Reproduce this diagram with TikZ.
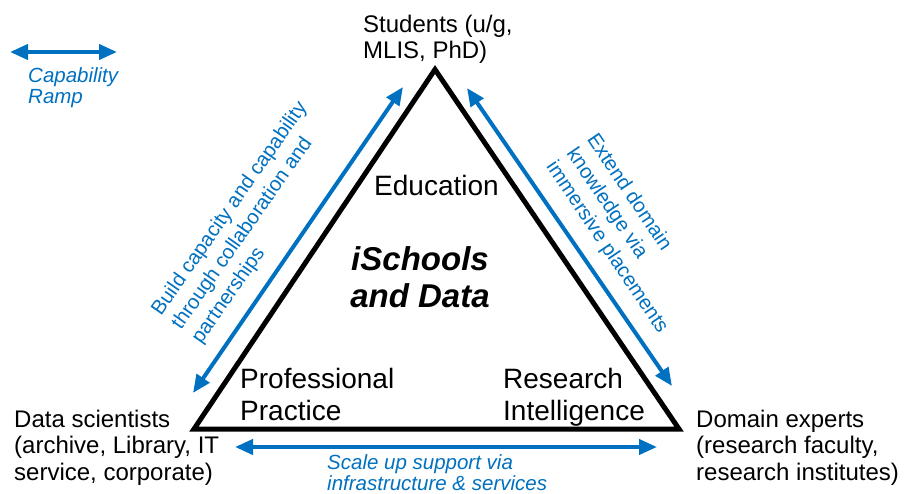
\documentclass[tikz,border=0pt]{standalone}
\usepackage{fontspec}
\setmainfont{Liberation Sans}
\usetikzlibrary{arrows.meta}
\definecolor{rampblue}{RGB}{0,112,192}
\begin{document}
\begin{tikzpicture}[x=1pt,y=-1pt,
  tri/.style={draw=black,line width=5pt,line join=miter},
  ramp/.style={draw=rampblue,line width=4pt,{Triangle[length=18pt,width=15pt]}-{Triangle[length=18pt,width=15pt]}},
  vlabel/.style={inner sep=0pt,align=left,font=\fontsize{24}{26.5}\selectfont},
  clabel/.style={inner sep=0pt,align=left,font=\fontsize{28}{32}\selectfont},
  blab/.style={inner sep=0pt,text=rampblue,font=\fontsize{20.5}{21}\selectfont\itshape,align=left},
  rlab/.style={inner sep=0pt,text=rampblue,font=\fontsize{20.3}{24.5}\selectfont,align=left}]
\useasboundingbox (0,0) rectangle (905,493);
% triangle
\coordinate (T) at (435,69.5);
\coordinate (BL) at (194,429);
\coordinate (BR) at (679,429);
\draw[tri] (T) -- (BR) -- (BL) -- cycle;
% arrow end points
\coordinate (LgA) at (10,52);
\coordinate (LgB) at (117,52);
\coordinate (LA) at (193,393);
\coordinate (LB) at (403,87);
\coordinate (RA) at (467,88);
\coordinate (RB) at (672,386);
\coordinate (BA) at (235,447);
\coordinate (BB) at (657,447);
\draw[ramp] (LgA) -- (LgB);
\draw[ramp] (LA) -- (LB);
\draw[ramp] (RA) -- (RB);
\draw[ramp] (BA) -- (BB);
% labels
\node[blab,anchor=north west] (cap) at (28,67) {Capability\\Ramp};
\node[vlabel,anchor=north west] (stu) at (363,14.5) {Students (u/g,\\MLIS, PhD)};
\node[vlabel,anchor=north west] (ds) at (14,409.5) {Data scientists\\(archive, Library, IT\\service, corporate)};
\node[vlabel,anchor=north west] (de) at (696,409.5) {Domain experts\\(research faculty,\\research institutes)};
\node[inner sep=0pt,anchor=base west,font=\fontsize{28}{32}\selectfont] (edu) at (374,195) {Education};
\node[inner sep=0pt,anchor=north,align=center,font=\fontsize{33}{37}\selectfont\bfseries\itshape] (isd) at (420,246) {iSchools\\and Data};
\node[clabel,anchor=north west] (pp) at (240,367.6) {Professional\\Practice};
\node[clabel,anchor=north west] (ri) at (503,367.6) {Research\\Intelligence};
\node[blab,anchor=north west] (scale) at (327,454) {Scale up support via\\infrastructure \& services};
\node[rlab,rotate=55] (build) at (250,223) {Build capacity and capability\\through collaboration and\\partnerships};
\node[rlab,rotate=-56] (ext) at (627,234) {Extend domain\\knowledge via\\immersive placements};
\end{tikzpicture}
\end{document}
